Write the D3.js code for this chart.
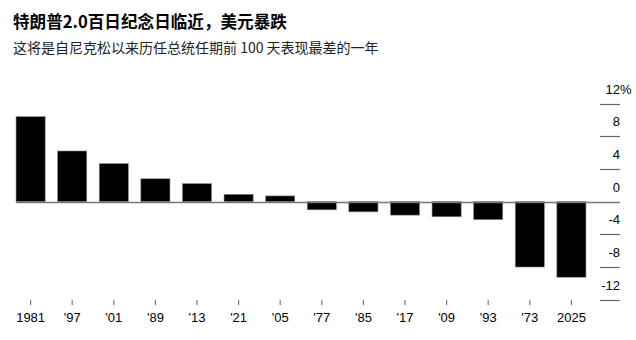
<!DOCTYPE html>
<html>
<head>
<meta charset="utf-8">
<script src="https://cdn.jsdelivr.net/npm/d3@7"></script>
<style>
  html, body { margin: 0; padding: 0; background: #fff; }
  svg { display: block; }
</style>
</head>
<body>
<svg id="chart" width="636" height="340"></svg>
<script>
// Dollar performance in each president's first 100 days (%)
const years = ["1981", "'97", "'01", "'89", "'13", "'21", "'05", "'77", "'85", "'17", "'09", "'93", "'73", "2025"];
const changes = [10.4, 6.2, 4.65, 2.8, 2.2, 0.9, 0.7, -1.0, -1.25, -1.65, -1.85, -2.2, -8.0, -9.25];
const yTicks = [12, 8, 4, 0, -4, -8, -12];

const title = "特朗普2.0百日纪念日临近，美元暴跌";
const subtitle = "这将是自尼克松以来历任总统任期前 100 天表现最差的一年";

const svg = d3.select("#chart");
const cjk = "'Noto Sans CJK SC', 'Noto Sans', sans-serif";
const latin = "'Liberation Sans', Arial, sans-serif";

svg.append("text")
  .attr("x", 13).attr("y", 28)
  .attr("font-family", cjk).attr("font-weight", 700)
  .attr("font-size", 16.6).attr("fill", "#000")
  .text(title);

svg.append("text")
  .attr("x", 13).attr("y", 53)
  .attr("font-family", cjk).attr("font-size", 14)
  .attr("fill", "#222")
  .text(subtitle);

const x = d3.scaleBand()
  .domain(years)
  .range([9.8, 592.2])
  .paddingInner(0.3)
  .paddingOuter(0.15);

const y = d3.scaleLinear()
  .domain([-12, 12])
  .range([299.7, 103.6]);

// gridline stubs and value labels on the right
const grid = svg.append("g");
grid.selectAll("line")
  .data(yTicks.filter(d => d !== 0))
  .join("line")
  .attr("x1", 600).attr("x2", 620)
  .attr("y1", d => Math.round(y(d)) + 0.5)
  .attr("y2", d => Math.round(y(d)) + 0.5)
  .attr("stroke", "#666").attr("stroke-width", 1.2);

grid.selectAll("text")
  .data(yTicks)
  .join("text")
  .attr("x", 620)
  .attr("y", d => y(d) - 10)
  .attr("text-anchor", "end")
  .attr("font-family", latin).attr("font-size", 13)
  .attr("fill", "#000")
  .text(d => d);

// percent sign hangs past the label column
grid.append("text")
  .attr("x", 620).attr("y", y(12) - 10)
  .attr("font-family", latin).attr("font-size", 13)
  .attr("fill", "#000")
  .text("%");

// bars
svg.append("g")
  .selectAll("rect")
  .data(years.map((k, i) => ({ k, v: changes[i] })))
  .join("rect")
  .attr("x", d => x(d.k))
  .attr("width", x.bandwidth())
  .attr("y", d => y(Math.max(0, d.v)))
  .attr("height", d => Math.abs(y(d.v) - y(0)))
  .attr("fill", "#000")
  .attr("stroke", "#888")
  .attr("stroke-width", 0.6);

// zero baseline
svg.append("line")
  .attr("x1", 16).attr("x2", 620)
  .attr("y1", Math.round(y(0)) + 0.5).attr("y2", Math.round(y(0)) + 0.5)
  .attr("stroke", "#777").attr("stroke-width", 1.4);

// category axis
const xAxis = svg.append("g")
  .attr("transform", "translate(0,300)")
  .call(d3.axisBottom(x).tickSize(5).tickPadding(8));
xAxis.select(".domain").remove();
xAxis.selectAll(".tick line").attr("stroke", "#777").attr("stroke-width", 1.2);
xAxis.selectAll(".tick text")
  .attr("font-family", latin).attr("font-size", 13)
  .attr("fill", "#000");
</script>
</body>
</html>
